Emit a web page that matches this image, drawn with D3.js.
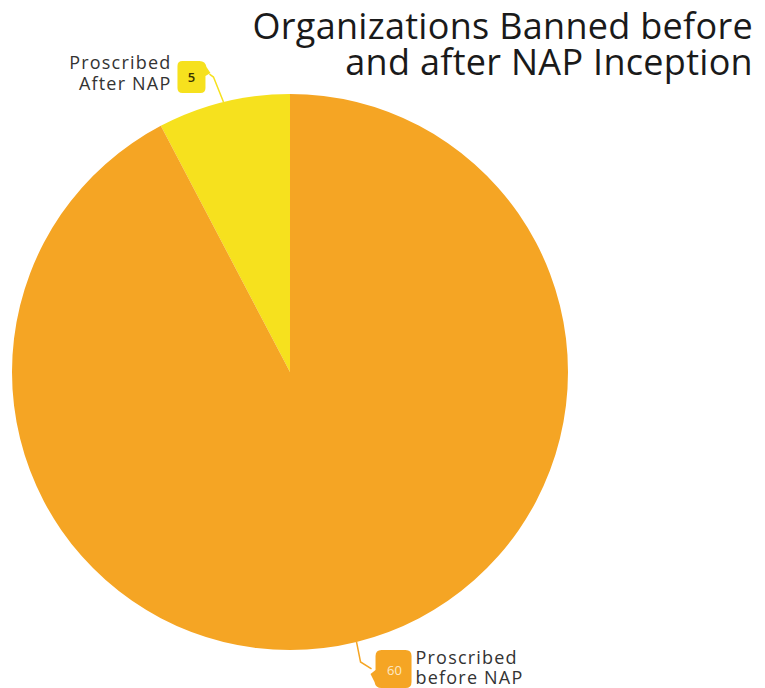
<!DOCTYPE html>
<html>
<head>
<meta charset="utf-8">
<script src="https://cdn.jsdelivr.net/npm/d3@7"></script>
<style>
  html, body { margin: 0; padding: 0; background: #ffffff; }
  svg { display: block; }
  text { font-family: "Open Sans", Lato, sans-serif; }
</style>
</head>
<body>
<svg id="chart" width="765" height="688"></svg>
<script>
// Organizations proscribed before and after the National Action Plan
const categories = ["Proscribed After NAP", "Proscribed before NAP"];
const labelLines = [["Proscribed", "After NAP"], ["Proscribed", "before NAP"]];
const values = [5, 60];
const colors = ["#F6E11E", "#F5A524"];
const titleLines = ["Organizations Banned before", "and after NAP Inception"];

const width = 765, height = 688;
const cx = 290, cy = 372, radius = 278;

const svg = d3.select("#chart");

const data = categories.map((c, i) => ({ name: c, value: values[i], lines: labelLines[i], color: colors[i] }));

// the small slice sits just left of twelve o'clock, the rest runs clockwise from the top
const total = d3.sum(values);
const start = -2 * Math.PI * values[0] / total;
const pie = d3.pie().sort(null).value(d => d.value)
  .startAngle(start).endAngle(start + 2 * Math.PI);
const arcs = pie(data);

const arc = d3.arc().innerRadius(0).outerRadius(radius);
const rim = d3.arc().innerRadius(radius).outerRadius(radius);

const g = svg.append("g").attr("transform", `translate(${cx},${cy})`);
g.selectAll("path.slice")
  .data(arcs)
  .join("path")
  .attr("class", "slice")
  .attr("d", arc)
  .attr("fill", d => d.data.color);

// Title, right aligned
svg.append("text")
  .attr("text-anchor", "end")
  .attr("font-size", 36)
  .attr("letter-spacing", 0.3)
  .attr("fill", "#1a1a1a")
  .selectAll("tspan")
  .data(titleLines)
  .join("tspan")
  .attr("x", 753)
  .attr("y", (d, i) => 39 + i * 36)
  .text(d => d);

// Tag-shaped value badge: rounded box with a small point toward the leader line
function badgePath(x, y, w, h, r, side) {
  const p = d3.path();
  if (side === "right") {
    p.moveTo(x + r, y);
    p.lineTo(x + w - 6, y);
    p.quadraticCurveTo(x + w, y, x + w + 1, y + 6);
    p.lineTo(x + w + 5, y + 12);
    p.lineTo(x + w, y + 15);
    p.lineTo(x + w, y + h - r);
    p.quadraticCurveTo(x + w, y + h, x + w - r, y + h);
    p.lineTo(x + r, y + h);
    p.quadraticCurveTo(x, y + h, x, y + h - r);
    p.lineTo(x, y + r);
    p.quadraticCurveTo(x, y, x + r, y);
  } else {
    p.moveTo(x + r, y);
    p.lineTo(x + w - r, y);
    p.quadraticCurveTo(x + w, y, x + w, y + r);
    p.lineTo(x + w, y + h - r);
    p.quadraticCurveTo(x + w, y + h, x + w - r, y + h);
    p.lineTo(x + 6, y + h);
    p.quadraticCurveTo(x, y + h, x - 1, y + h - 6);
    p.lineTo(x - 5, y + h - 14);
    p.lineTo(x, y + h - 18);
    p.lineTo(x, y + r);
    p.quadraticCurveTo(x, y, x + r, y);
  }
  p.closePath();
  return p.toString();
}

const labels = svg.append("g");

arcs.forEach((a, i) => {
  const [px, py] = rim.centroid(a);
  const ax = cx + px, ay = cy + py;
  const col = a.data.color;
  if (i === 0) {
    // upper label: leader rises from the rim to a badge on the left
    const bx = ax - 46, by = ay - 41, bw = 28, bh = 32;
    labels.append("path")
      .attr("d", d3.line()([[ax, ay], [ax - 10, ay - 25], [ax - 14, ay - 28]]))
      .attr("fill", "none").attr("stroke", col).attr("stroke-width", 1.5);
    labels.append("path").attr("d", badgePath(bx, by, bw, bh, 5, "right")).attr("fill", col);
    labels.append("text")
      .attr("x", bx + bw / 2).attr("y", by + bh / 2 + 5)
      .attr("text-anchor", "middle").attr("font-size", 13).attr("font-weight", 600)
      .attr("fill", "#3a3300").text(a.data.value);
    labels.append("text")
      .attr("text-anchor", "end").attr("font-size", 18).attr("fill", "#333")
      .attr("letter-spacing", 1.2)
      .selectAll("tspan").data(a.data.lines).join("tspan")
      .attr("x", bx - 6).attr("y", (d, k) => by + 8 + k * 21).text(d => d);
  } else {
    // lower label: leader drops from the rim to a badge on the right
    const bx = ax + 19, by = ay + 8, bw = 36, bh = 38;
    labels.append("path")
      .attr("d", d3.line()([[ax, ay], [ax + 4, ay + 20], [ax + 15, ay + 27]]))
      .attr("fill", "none").attr("stroke", col).attr("stroke-width", 1.5);
    labels.append("path").attr("d", badgePath(bx, by, bw, bh, 6, "left")).attr("fill", col);
    labels.append("text")
      .attr("x", bx + bw / 2 + 1).attr("y", by + bh / 2 + 6)
      .attr("text-anchor", "middle").attr("font-size", 13)
      .attr("fill", "#fde9c4").text(a.data.value);
    labels.append("text")
      .attr("text-anchor", "start").attr("font-size", 18).attr("fill", "#333")
      .attr("letter-spacing", 1.2)
      .selectAll("tspan").data(a.data.lines).join("tspan")
      .attr("x", bx + bw + 4).attr("y", (d, k) => by + 14 + k * 20).text(d => d);
  }
});
</script>
</body>
</html>
